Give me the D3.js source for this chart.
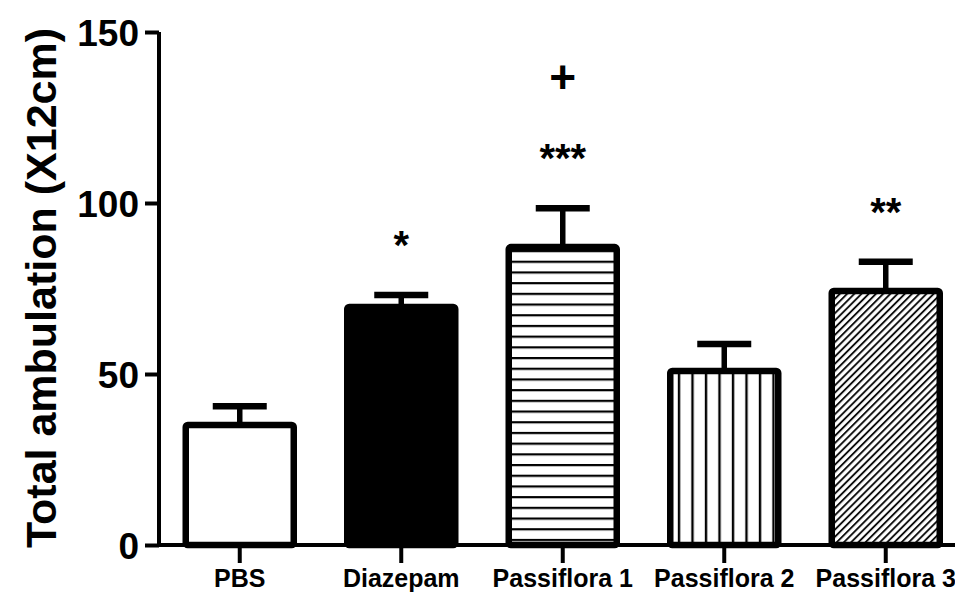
<!DOCTYPE html>
<html>
<head>
<meta charset="utf-8">
<script src="https://cdn.jsdelivr.net/npm/d3@7/dist/d3.min.js"></script>
<style>
  body { margin: 0; background: #fff; }
  text { font-family: "Liberation Sans", Arial, sans-serif; }
</style>
</head>
<body>
<div id="chart"></div>
<script>
// data
var groups = ["PBS", "Diazepam", "Passiflora 1", "Passiflora 2", "Passiflora 3"];
var means = [35.1, 69.6, 87.1, 50.9, 74.3];
var sems = [5.5, 3.5, 11.4, 7.9, 8.5];
var stars = ["", "*", "***", "", "**"];
var plus = ["", "", "+", "", ""];
var fills = ["white", "black", "url(#hlines)", "url(#vlines)", "url(#diag)"];
var yTicks = [0, 50, 100, 150];

var width = 955, height = 595;
var svg = d3.select("#chart").append("svg")
    .attr("width", width)
    .attr("height", height);

// patterns
var defs = svg.append("defs");
var h = defs.append("pattern").attr("id", "hlines")
    .attr("patternUnits", "userSpaceOnUse")
    .attr("width", 20).attr("height", 10.7);
h.append("rect").attr("width", 20).attr("height", 10.7).attr("fill", "white");
h.append("line").attr("x1", 0).attr("x2", 20).attr("y1", 5).attr("y2", 5)
    .attr("stroke", "black").attr("stroke-width", 2.2);

var v = defs.append("pattern").attr("id", "vlines")
    .attr("patternUnits", "userSpaceOnUse")
    .attr("width", 13.5).attr("height", 20);
v.append("rect").attr("width", 13.5).attr("height", 20).attr("fill", "white");
v.append("line").attr("x1", 4).attr("x2", 4).attr("y1", 0).attr("y2", 20)
    .attr("stroke", "black").attr("stroke-width", 2.4);

var dg = defs.append("pattern").attr("id", "diag")
    .attr("patternUnits", "userSpaceOnUse")
    .attr("width", 5.1).attr("height", 10)
    .attr("patternTransform", "rotate(45)");
dg.append("rect").attr("width", 5.1).attr("height", 10).attr("fill", "white");
dg.append("line").attr("x1", 1).attr("x2", 1).attr("y1", 0).attr("y2", 10)
    .attr("stroke", "black").attr("stroke-width", 1.8);

// scales
var x = d3.scaleBand().domain(groups).range([159, 159 + 5 * 161.5]).padding(0);
var y = d3.scaleLinear().domain([0, 150]).range([545, 32]);
var barW = 108;

// bars
var g = svg.append("g");
groups.forEach(function (name, i) {
    var cx = x(name) + x.bandwidth() / 2;
    var top = y(means[i] + sems[i]);
    // error bar (upper only)
    g.append("line")
        .attr("x1", cx).attr("x2", cx)
        .attr("y1", y(means[i])).attr("y2", top)
        .attr("stroke", "black").attr("stroke-width", 5.5);
    g.append("line")
        .attr("x1", cx - 27).attr("x2", cx + 27)
        .attr("y1", top).attr("y2", top)
        .attr("stroke", "black").attr("stroke-width", 6.5);
    g.append("rect")
        .attr("x", cx - barW / 2)
        .attr("y", y(means[i]))
        .attr("width", barW)
        .attr("height", y(0) - y(means[i]))
        .attr("rx", 2)
        .attr("fill", fills[i])
        .attr("stroke", "black")
        .attr("stroke-width", 6.5);
    if (stars[i]) {
        g.append("text")
            .attr("x", cx).attr("y", top - 58 + 22)
            .attr("text-anchor", "middle")
            .style("font-size", "40px").style("font-weight", "bold")
            .text(stars[i]);
    }
    if (plus[i]) {
        g.append("text")
            .attr("x", cx).attr("y", 93)
            .attr("text-anchor", "middle")
            .style("font-size", "46px").style("font-weight", "bold")
            .text(plus[i]);
    }
});

// y axis
var yAxis = svg.append("g").attr("transform", "translate(159,0)")
    .call(d3.axisLeft(y).tickValues(yTicks).tickSize(14).tickPadding(6));
yAxis.select(".domain").attr("stroke-width", 4).attr("d", "M0," + y(150) + "V" + y(0));
yAxis.selectAll(".tick line").attr("stroke-width", 4);
yAxis.selectAll(".tick text")
    .style("font-size", "37px").style("font-weight", "bold")
    .attr("fill", "black").attr("dy", "0.36em")
    .style("font-family", "Liberation Sans, Arial, sans-serif");

// x axis
var xAxis = svg.append("g").attr("transform", "translate(0,545)")
    .call(d3.axisBottom(x).tickSize(18).tickPadding(6));
xAxis.select(".domain").attr("stroke-width", 4).attr("d", "M157,0H" + width);
xAxis.selectAll(".tick line").attr("stroke-width", 4);
xAxis.selectAll(".tick text")
    .style("font-size", "25px").style("font-weight", "bold")
    .attr("fill", "black")
    .style("font-family", "Liberation Sans, Arial, sans-serif");

// y label
svg.append("text")
    .attr("transform", "translate(56,288) rotate(-90)")
    .attr("text-anchor", "middle")
    .style("font-size", "43px").style("font-weight", "bold")
    .text("Total ambulation (X12cm)");
</script>
</body>
</html>
